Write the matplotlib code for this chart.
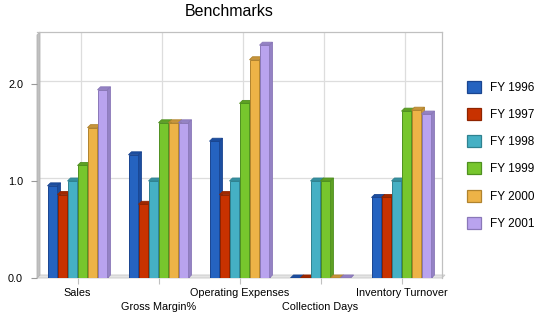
import numpy as np
import matplotlib
matplotlib.use("Agg")
import matplotlib.pyplot as plt
from matplotlib.patches import Polygon, Patch

plt.rcParams['font.family'] = ['Liberation Sans', 'DejaVu Sans']

categories = ['Sales', 'Gross Margin%', 'Operating Expenses', 'Collection Days', 'Inventory Turnover']
years = ['FY 1996', 'FY 1997', 'FY 1998', 'FY 1999', 'FY 2000', 'FY 2001']
fy1996 = [0.95, 1.27, 1.41, 0.0, 0.83]
fy1997 = [0.86, 0.76, 0.86, 0.0, 0.83]
fy1998 = [1.00, 1.00, 1.00, 1.00, 1.00]
fy1999 = [1.16, 1.60, 1.80, 1.00, 1.72]
fy2000 = [1.55, 1.60, 2.25, 0.0, 1.73]
fy2001 = [1.94, 1.60, 2.40, 0.0, 1.69]
series = [fy1996, fy1997, fy1998, fy1999, fy2000, fy2001]

face = ['#2563c0', '#c83200', '#45b0c4', '#77c62d', '#edb347', '#b9a3ee']
edge = ['#1a4590', '#8f2400', '#2f8290', '#4f9020', '#b0832e', '#8a78b8']
side = ['#1c4ea0', '#a02800', '#3690a0', '#5ea024', '#c8953a', '#9482c4']

fig = plt.figure(figsize=(5.5, 3.18), dpi=100)
ax = fig.add_axes([37/550, 40/318, 405/550, 246/318])
ymax = 246/97
ax.set_xlim(-0.5, 4.5)
ax.set_ylim(0, ymax)

# pixel -> data units for the 3D depth
dx = 3/81
dy = 3/97
w = 10/81
x = np.arange(len(categories))

# back wall grid
for yv in [1.0, 2.0]:
    ax.plot([-0.5 + dx, 4.5], [yv + dy, yv + dy], color='#dddddd', lw=0.9, zorder=0)
for xv in x:
    ax.plot([xv + dx, xv + dx], [dy, ymax], color='#dddddd', lw=0.9, zorder=0)

# floor and left wall
ax.add_patch(Polygon([[-0.5, 0], [4.5, 0], [4.5 + dx, dy], [-0.5 + dx, dy]],
                     closed=True, fc='#e4e4e4', ec='#c8c8c8', lw=0.6, clip_on=False, zorder=1))
ax.add_patch(Polygon([[-0.5, 0], [-0.5 + dx, dy], [-0.5 + dx, ymax], [-0.5, ymax - dy]],
                     closed=True, fc='#c0c0c0', ec='#b4b4b4', lw=0.6, clip_on=False, zorder=1))

for j, vals in enumerate(series):
    xs = x + (j - 3) * w
    ax.bar(xs, vals, width=w, align='edge', color=face[j], edgecolor=edge[j], lw=0.7, zorder=3)
    for xi, v in zip(xs, vals):
        top = Polygon([[xi, v], [xi + w, v], [xi + w + dx, v + dy], [xi + dx, v + dy]],
                      closed=True, fc=side[j], ec=edge[j], lw=0.6, zorder=3)
        sd = Polygon([[xi + w, 0], [xi + w + dx, dy], [xi + w + dx, v + dy], [xi + w, v]],
                     closed=True, fc=side[j], ec=edge[j], lw=0.6, zorder=3)
        ax.add_patch(top)
        ax.add_patch(sd)

for s in ['left', 'bottom']:
    ax.spines[s].set_visible(False)
for s in ['top', 'right']:
    ax.spines[s].set_color('#c0c0c0')
    ax.spines[s].set_linewidth(0.9)

ax.set_yticks([0.0, 1.0, 2.0])
ax.set_yticklabels(['0.0', '1.0', '2.0'], fontsize=7.8)
ax.tick_params(axis='y', length=4, color='#999999', pad=6)
ax.set_xticks(x)
ax.set_xticklabels([c if i % 2 == 0 else '\n' + c for i, c in enumerate(categories)],
                   fontsize=7.8, linespacing=1.5)
ax.tick_params(axis='x', length=4, color='#c0c0c0', pad=3)

fig.text(229/550, 1 - 12/318, 'Benchmarks', ha='center', va='center', fontsize=11.5)

handles = [Patch(facecolor=face[j], edgecolor=edge[j], lw=0.9) for j in range(len(years))]
fig.legend(handles, years, loc='upper left', bbox_to_anchor=(462/550, 1 - 76/318),
           frameon=False, fontsize=8.5, handlelength=1.2, handleheight=1.2,
           labelspacing=1.2, handletextpad=0.75, borderaxespad=0)

fig.savefig('out.png', dpi=100)
